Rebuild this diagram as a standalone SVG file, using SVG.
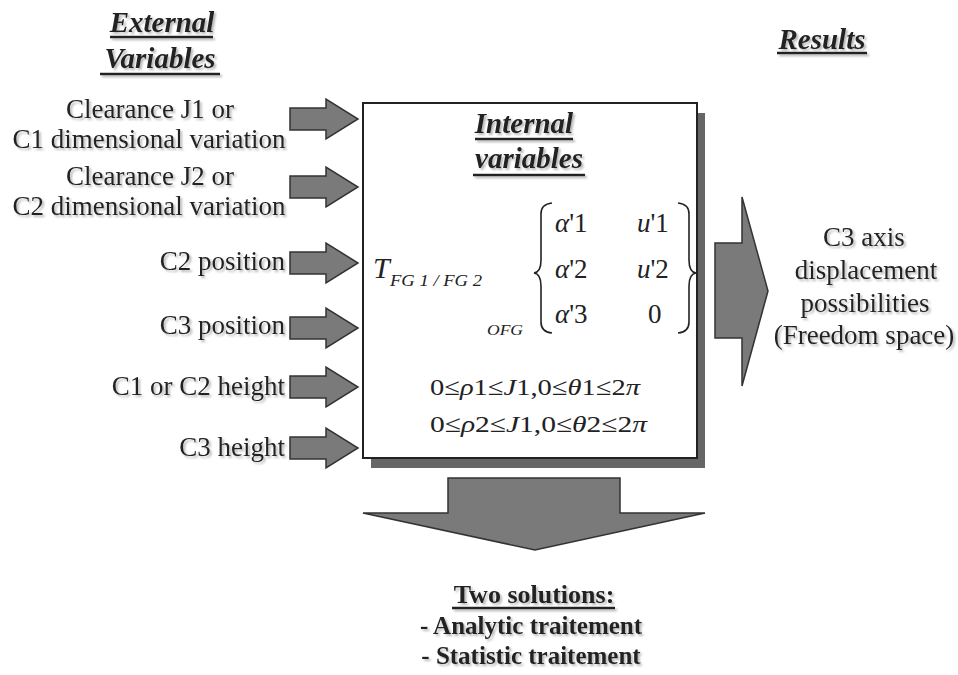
<svg xmlns="http://www.w3.org/2000/svg" width="958" height="675" viewBox="0 0 958 675">
<defs>
<filter id="ts" x="-10%" y="-30%" width="120%" height="160%">
<feDropShadow dx="2" dy="2" stdDeviation="1" flood-color="#888" flood-opacity="0.6"/>
</filter>
</defs>
<style>
text{font-family:"Liberation Serif","Times New Roman",serif;fill:#222}
.lbl{font-size:27px}
.ttl{font-size:29px;font-weight:bold;font-style:italic}
.bold{font-weight:bold}
.ul{stroke:#222;stroke-width:2.5}
.arr{fill:#7a7a7a;stroke:#333;stroke-width:1.5;stroke-linejoin:miter}
.it{font-style:italic}
.brace{fill:none;stroke:#222;stroke-width:1.6}
</style>
<rect width="958" height="675" fill="#fff"/>

<g id="external-title" filter="url(#ts)">
<text class="ttl" x="162" y="32" text-anchor="middle">External</text>
<line class="ul" x1="110" y1="37" x2="213" y2="37"/>
<text class="ttl" x="160" y="68" text-anchor="middle">Variables</text>
<line class="ul" x1="100" y1="74" x2="220" y2="74"/>
</g>

<g id="results-title" filter="url(#ts)">
<text class="ttl" x="822" y="49" text-anchor="middle">Results</text>
<line class="ul" x1="777" y1="53" x2="867" y2="53"/>
</g>

<g id="ext-clearance1" filter="url(#ts)">
<text class="lbl" x="150" y="118" text-anchor="middle">Clearance J1 or</text>
<text class="lbl" x="149" y="148" text-anchor="middle">C1 dimensional variation</text>
</g>
<g id="ext-clearance2" filter="url(#ts)">
<text class="lbl" x="150" y="185" text-anchor="middle">Clearance J2 or</text>
<text class="lbl" x="149" y="215" text-anchor="middle">C2 dimensional variation</text>
</g>
<g id="ext-c2pos" filter="url(#ts)"><text class="lbl" x="285" y="270" text-anchor="end">C2 position</text></g>
<g id="ext-c3pos" filter="url(#ts)"><text class="lbl" x="285" y="334" text-anchor="end">C3 position</text></g>
<g id="ext-height12" filter="url(#ts)"><text class="lbl" x="285" y="395" text-anchor="end">C1 or C2 height</text></g>
<g id="ext-c3height" filter="url(#ts)"><text class="lbl" x="285" y="456" text-anchor="end">C3 height</text></g>

<g id="internal-box">
<rect x="371" y="113" width="334" height="355" fill="#666"/>
<rect x="363" y="103" width="334" height="355" fill="#fff" stroke="#222" stroke-width="2"/>
<g filter="url(#ts)">
<text class="ttl" x="524" y="133" text-anchor="middle">Internal</text>
<line class="ul" x1="475" y1="139" x2="573" y2="139"/>
<text class="ttl" x="529" y="168" text-anchor="middle">variables</text>
<line class="ul" x1="473" y1="175" x2="585" y2="175"/>
</g>
<g id="torsor">
<text class="it" x="373" y="278" font-size="30">T</text>
<text class="it" x="390" y="286" font-size="16" textLength="92" lengthAdjust="spacingAndGlyphs">FG 1 / FG 2</text>
<text class="it" x="487" y="335" font-size="15" textLength="36" lengthAdjust="spacingAndGlyphs">OFG</text>
<path class="brace" d="M552,203 Q541,204 541,214 L541,260 Q541,272 534,273 Q541,274 541,286 L541,322 Q541,332 552,333"/>
<path class="brace" d="M678,203 Q689,204 689,214 L689,260 Q689,272 696,273 Q689,274 689,286 L689,322 Q689,332 678,333"/>
<g font-size="27">
<text x="555" y="232"><tspan class="it">α</tspan>'1</text>
<text x="637" y="232"><tspan class="it">u</tspan>'1</text>
<text x="555" y="278"><tspan class="it">α</tspan>'2</text>
<text x="637" y="278"><tspan class="it">u</tspan>'2</text>
<text x="555" y="323"><tspan class="it">α</tspan>'3</text>
<text x="648" y="323">0</text>
</g>
</g>
<g id="constraints" font-size="24">
<text x="430" y="395" textLength="210" lengthAdjust="spacingAndGlyphs">0≤<tspan class="it">ρ</tspan>1≤<tspan class="it">J</tspan>1,0≤<tspan class="it">θ</tspan>1≤2<tspan class="it">π</tspan></text>
<text x="430" y="432" textLength="217" lengthAdjust="spacingAndGlyphs">0≤<tspan class="it">ρ</tspan>2≤<tspan class="it">J</tspan>1,0≤<tspan class="it">θ</tspan>2≤2<tspan class="it">π</tspan></text>
</g>
</g>

<g id="result-text" filter="url(#ts)">
<text class="lbl" x="864" y="246" text-anchor="middle" font-size="26">C3 axis</text>
<text class="lbl" x="866" y="279" text-anchor="middle">displacement</text>
<text class="lbl" x="865" y="312" text-anchor="middle">possibilities</text>
<text class="lbl" x="864" y="344" text-anchor="middle">(Freedom space)</text>
</g>

<g id="solutions" filter="url(#ts)">
<text class="bold" x="534" y="603" text-anchor="middle" font-size="26">Two solutions:</text>
<line class="ul" x1="452" y1="608" x2="615" y2="608"/>
<text class="bold" x="531" y="634" text-anchor="middle" font-size="25">- Analytic traitement</text>
<text class="bold" x="531" y="664" text-anchor="middle" font-size="25">- Statistic traitement</text>
</g>

<g id="connectors">
<path class="arr" d="M290,108 H326 V99 L358,119 L326,139 V130 H290 Z"/>
<path class="arr" d="M290,176 H326 V167 L358,187 L326,207 V198 H290 Z"/>
<path class="arr" d="M290,252 H326 V243 L358,263 L326,283 V274 H290 Z"/>
<path class="arr" d="M290,317 H326 V308 L358,328 L326,348 V339 H290 Z"/>
<path class="arr" d="M290,376 H326 V367 L358,387 L326,407 V398 H290 Z"/>
<path class="arr" d="M290,437 H326 V428 L358,448 L326,468 V459 H290 Z"/>
<path class="arr" d="M715,243 H742 V197 L768,291 L742,386 V338 H715 Z"/>
<path class="arr" d="M448,478 H620 V513 H705 L535,550 L363,513 H448 Z"/>
</g>
</svg>
